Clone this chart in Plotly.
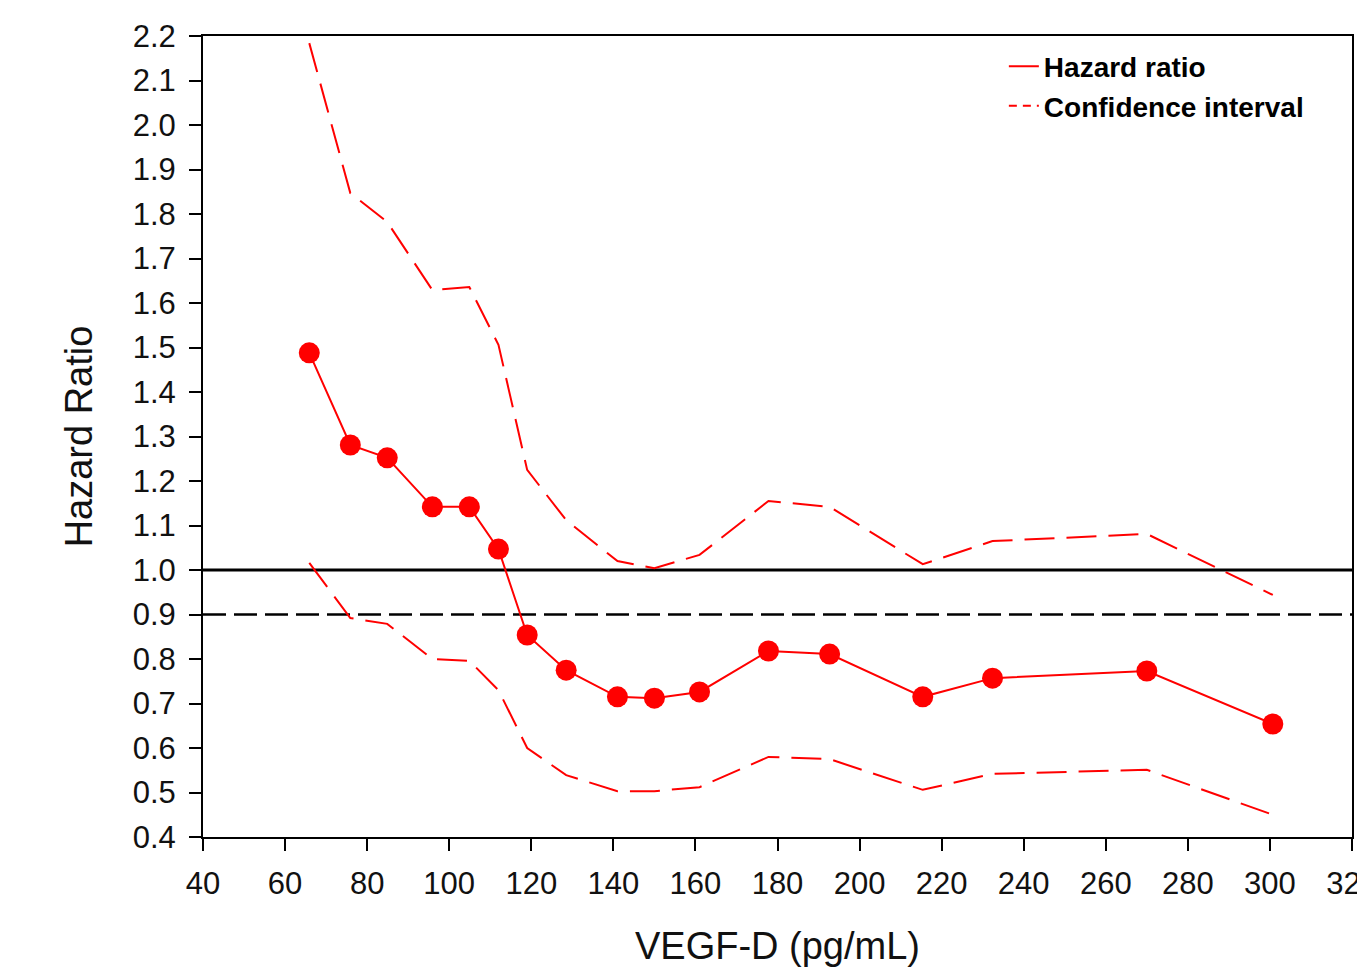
import plotly.graph_objects as go

vegf = [65.9, 75.9, 84.9, 95.9, 104.9, 112.0, 119.0, 128.5, 141.0, 150.0,
        161.0, 177.8, 192.7, 215.4, 232.4, 270.0, 300.7]
hazard = [1.488, 1.281, 1.252, 1.142, 1.142, 1.047, 0.854, 0.775, 0.715, 0.712,
          0.726, 0.818, 0.811, 0.715, 0.757, 0.773, 0.654]
ci_upper = [2.184, 1.847, 1.782, 1.629, 1.636, 1.506, 1.225, 1.112, 1.020, 1.004,
            1.034, 1.155, 1.142, 1.013, 1.065, 1.081, 0.944]
ci_lower = [1.016, 0.892, 0.879, 0.800, 0.796, 0.730, 0.600, 0.539, 0.503, 0.503,
            0.512, 0.580, 0.575, 0.506, 0.542, 0.551, 0.450]
ref_solid = 1.0
ref_dashed = 0.9

x_ticks = list(range(40, 321, 20))
y_ticks = [round(0.4 + 0.1 * i, 1) for i in range(19)]

RED = "#FF0000"
FONT = "Liberation Sans, Arial, sans-serif"

fig = go.Figure()

fig.add_trace(go.Scatter(x=vegf, y=ci_upper, mode="lines", showlegend=False,
                         line=dict(color=RED, width=2, dash="30px,12px")))
fig.add_trace(go.Scatter(x=vegf, y=ci_lower, mode="lines", showlegend=False,
                         line=dict(color=RED, width=2, dash="30px,12px")))
fig.add_trace(go.Scatter(x=vegf, y=hazard, mode="lines", name="Hazard ratio",
                         line=dict(color=RED, width=2)))
fig.add_trace(go.Scatter(x=vegf, y=hazard, mode="markers", showlegend=False,
                         marker=dict(color=RED, size=21, line=dict(width=0))))
fig.add_trace(go.Scatter(x=[None], y=[None], mode="lines", name="Confidence interval",
                         line=dict(color=RED, width=2, dash="8px,6px")))

fig.add_hline(y=ref_solid, line=dict(color="black", width=3), layer="below")
fig.add_hline(y=ref_dashed, line=dict(color="black", width=2.5, dash="23px,8px"), layer="below")

fig.update_layout(
    width=1357, height=967,
    margin=dict(l=203, r=5, t=36, b=130, autoexpand=False),
    paper_bgcolor="white", plot_bgcolor="white",
    font=dict(family=FONT, color="black"),
    legend=dict(x=0.697, y=0.993, xanchor="left", yanchor="top",
                bgcolor="rgba(0,0,0,0)", borderwidth=0,
                font=dict(family=FONT, size=28, color="black", weight="bold"),
                tracegroupgap=0, itemwidth=30),
)

fig.update_xaxes(
    range=[40, 320], tickvals=x_ticks, ticktext=[str(v) for v in x_ticks],
    showgrid=False, zeroline=False, automargin=False,
    showline=True, linecolor="black", linewidth=2, mirror=True,
    ticks="outside", ticklen=12, tickwidth=2, tickcolor="black",
    ticklabeloverflow="allow", ticklabelstandoff=6,
    tickfont=dict(family=FONT, size=31, color="#111111"),
    title=dict(text="VEGF-D (pg/mL)", font=dict(family=FONT, size=38, color="#111111"), standoff=36),
)
fig.update_yaxes(
    range=[0.4, 2.2], tickvals=y_ticks, ticktext=[f"{v:.1f}" for v in y_ticks],
    showgrid=False, zeroline=False, automargin=False,
    showline=True, linecolor="black", linewidth=2, mirror=True,
    ticks="outside", ticklen=12, tickwidth=2, tickcolor="black",
    ticklabeloverflow="allow", ticklabelstandoff=7,
    tickfont=dict(family=FONT, size=31, color="#111111"),
    title=dict(text="Hazard Ratio", font=dict(family=FONT, size=38, color="#111111"), standoff=28),
)

fig.write_html("out.html", config={"displayModeBar": False},
               post_script="document.body.style.margin='0';")
